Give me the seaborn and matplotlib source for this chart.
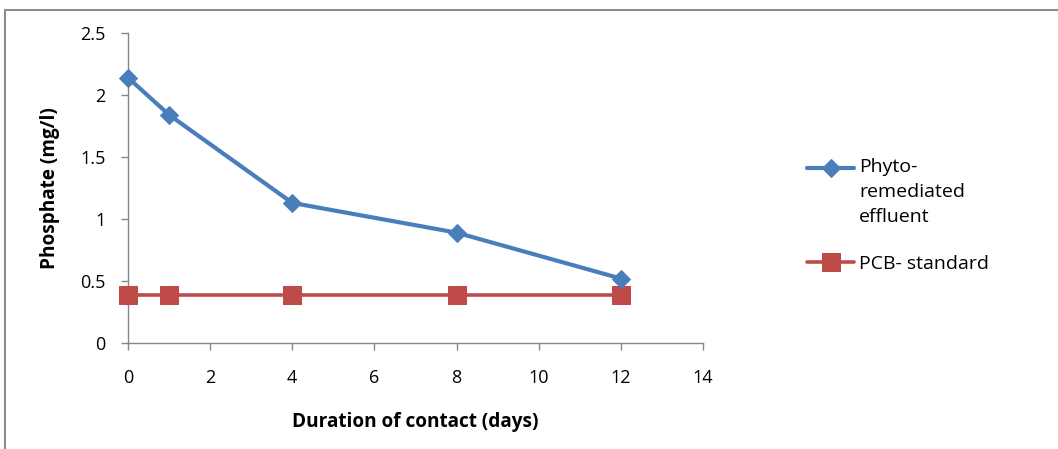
import matplotlib
matplotlib.use("Agg")
import matplotlib.pyplot as plt
from matplotlib.patches import Rectangle
from matplotlib.legend_handler import HandlerLine2D
import numpy as np
import seaborn as sns
import pandas as pd

# Phosphate concentration over the contact period
days = [0, 1, 4, 8, 12]
phyto_effluent = [2.14, 1.84, 1.13, 0.89, 0.52]
pcb_standard = [0.39, 0.39, 0.39, 0.39, 0.39]
series_names = ["Phyto-\nremediated\neffluent", "PCB- standard"]
x_ticks = [0, 2, 4, 6, 8, 10, 12, 14]
y_ticks = [0, 0.5, 1, 1.5, 2, 2.5]
y_tick_labels = ["0", "0.5", "1", "1.5", "2", "2.5"]

df = pd.DataFrame({
    "day": days * 2,
    "value": phyto_effluent + pcb_standard,
    "series": [series_names[0]] * len(days) + [series_names[1]] * len(days),
})

sns.set_theme(style="white")
plt.rcParams["font.family"] = ["Open Sans", "DejaVu Sans"]

BLUE = "#4A7EBB"
RED = "#BE4B48"
AXIS_GREY = "#868686"
TICK_FS = 13
LABEL_FS = 13.7
LEGEND_FS = 14


class FirstLineHandler(HandlerLine2D):
    """Legend handle drawn level with the first line of a multi-line label."""

    def __init__(self, shift=0.0, **kw):
        super().__init__(**kw)
        self.shift = shift

    def create_artists(self, legend, orig_handle, xdescent, ydescent,
                       width, height, fontsize, trans):
        artists = super().create_artists(legend, orig_handle, xdescent,
                                         ydescent, width, height, fontsize,
                                         trans)
        for a in artists:
            a.set_ydata(np.asarray(a.get_ydata(), dtype=float) + self.shift)
        return artists


fig = plt.figure(figsize=(10.58, 4.49), dpi=100)
ax = fig.add_axes([0.121, 0.236, 0.5435, 0.6905])

sns.lineplot(data=df[df["series"] == series_names[0]], x="day", y="value",
             color=BLUE, lw=3, marker="D", markersize=9,
             markeredgecolor=BLUE, label=series_names[0], ax=ax,
             clip_on=False, zorder=4)
sns.lineplot(data=df[df["series"] == series_names[1]], x="day", y="value",
             color=RED, lw=2.6, marker="s", markersize=12.5,
             markeredgecolor=RED, label=series_names[1], ax=ax,
             clip_on=False, zorder=3)

ax.set_xlim(0, 14)
ax.set_ylim(0, 2.5)
ax.set_xticks(x_ticks)
ax.set_yticks(y_ticks)
ax.set_yticklabels(y_tick_labels)

for side in ("top", "right"):
    ax.spines[side].set_visible(False)
for side in ("left", "bottom"):
    ax.spines[side].set_color(AXIS_GREY)
    ax.spines[side].set_linewidth(1.0)

ax.tick_params(axis="x", direction="out", length=5, width=1, color=AXIS_GREY,
               pad=14, labelsize=TICK_FS, labelcolor="#000000", bottom=True)
ax.tick_params(axis="y", direction="out", length=5, width=1, color=AXIS_GREY,
               pad=11, labelsize=TICK_FS, labelcolor="#000000", left=True)

ax.set_xlabel("Duration of contact (days)", fontsize=LABEL_FS,
              fontweight="bold", color="#000000", labelpad=18)
ax.set_ylabel("Phosphate (mg/l)", fontsize=LABEL_FS, fontweight="bold",
              color="#000000", labelpad=15)

handles, labels = ax.get_legend_handles_labels()
leg = ax.legend(handles, labels, loc="upper left",
                bbox_to_anchor=(0.746, 0.687), bbox_transform=fig.transFigure,
                frameon=False, fontsize=LEGEND_FS, handlelength=2.45,
                handletextpad=0.25, labelspacing=1.5,
                handler_map={handles[0]: FirstLineHandler(shift=17.6)})
for text in leg.get_texts():
    text.set_color("#000000")
    text.set_linespacing(1.5)

# chart-area border
fig.patches.append(Rectangle((5 / 1058, -0.2), 1.2, 0.2 + (1 - 10 / 449),
                             transform=fig.transFigure, fill=False,
                             edgecolor="#8C8C8C", lw=1.5, zorder=-1))

fig.savefig("out.png", dpi=100)
